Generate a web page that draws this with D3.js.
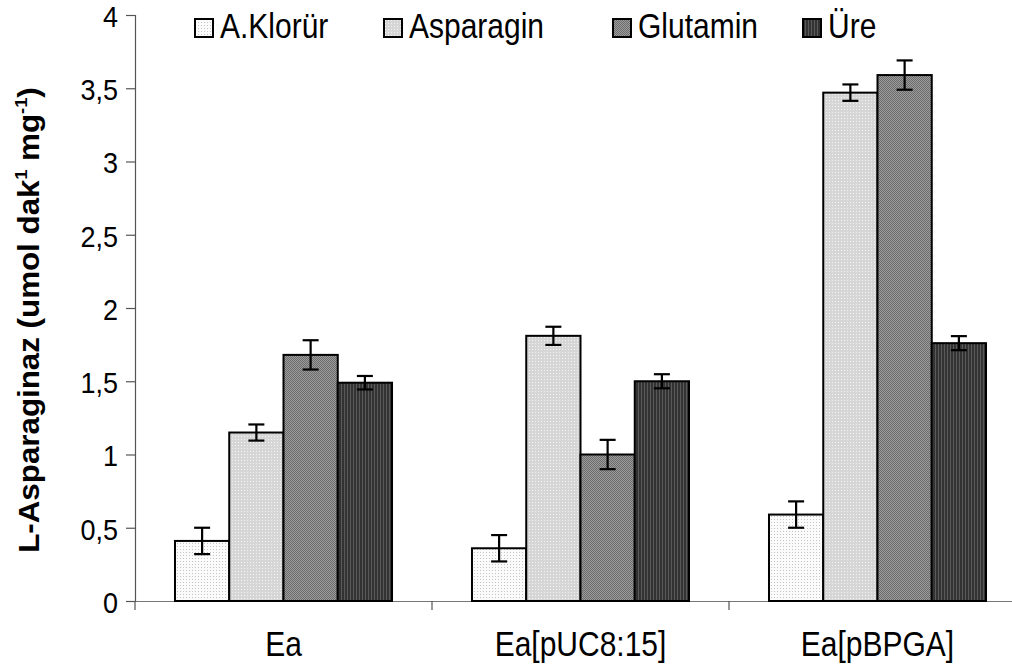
<!DOCTYPE html>
<html>
<head>
<meta charset="utf-8">
<script src="https://cdn.jsdelivr.net/npm/d3@7"></script>
<style>
  html, body { margin: 0; padding: 0; background: #fff; }
  svg text { font-family: "Liberation Sans", Arial, sans-serif; fill: #000; }
</style>
</head>
<body>
<svg id="chart" width="1012" height="668"></svg>
<script>
// Strains on the x axis and the four nitrogen sources
const groups = ["Ea", "Ea[pUC8:15]", "Ea[pBPGA]"];
const seriesNames = ["A.Klorür", "Asparagin", "Glutamin", "Üre"];

// L-asparaginase activity per strain, one array per source
const aKlorur   = [0.41, 0.36, 0.59];
const asparagin = [1.15, 1.81, 3.47];
const glutamin  = [1.68, 1.00, 3.59];
const ure       = [1.49, 1.50, 1.76];

// Standard error of each mean
const aKlorurErr   = [0.09, 0.09, 0.09];
const asparaginErr = [0.055, 0.062, 0.056];
const glutaminErr  = [0.10, 0.10, 0.10];
const ureErr       = [0.046, 0.048, 0.048];

const yTicks = [0, 0.5, 1, 1.5, 2, 2.5, 3, 3.5, 4];

const values = [aKlorur, asparagin, glutamin, ure];
const errors = [aKlorurErr, asparaginErr, glutaminErr, ureErr];

const rows = [];
groups.forEach((g, gi) => {
  seriesNames.forEach((s, si) => {
    rows.push({ group: g, series: s, value: values[si][gi], err: errors[si][gi] });
  });
});

const svg = d3.select("#chart");
const plotLeft = 135, plotRight = 1026, plotTop = 15, plotBottom = 601;
const tall = 1.18; // vertical stretch of the horizontal labels

const x0 = d3.scaleBand().domain(groups).range([plotLeft, plotRight]);
const x1 = d3.scaleBand().domain(seriesNames).range([0, x0.bandwidth()]).paddingOuter(0.737);
const y = d3.scaleLinear().domain([0, 4]).range([plotBottom, plotTop]);

const trFormat = d3.formatLocale({ decimal: ",", thousands: ".", grouping: [3], currency: ["", ""] }).format("~g");

// Fill patterns for the four sources
const defs = svg.append("defs");
const pA = defs.append("pattern").attr("id", "pat0").attr("patternUnits", "userSpaceOnUse").attr("width", 3).attr("height", 3);
pA.append("rect").attr("width", 3).attr("height", 3).attr("fill", "#fbfbfb");
pA.append("rect").attr("width", 1).attr("height", 1).attr("fill", "#c4c4c4");

const pB = defs.append("pattern").attr("id", "pat1").attr("patternUnits", "userSpaceOnUse").attr("width", 3).attr("height", 3);
pB.append("rect").attr("width", 3).attr("height", 3).attr("fill", "#d6d6d6");
pB.append("rect").attr("x", 1).attr("y", 1).attr("width", 1).attr("height", 1).attr("fill", "#f2f2f2");

const pC = defs.append("pattern").attr("id", "pat2").attr("patternUnits", "userSpaceOnUse").attr("width", 2).attr("height", 2);
pC.append("rect").attr("width", 2).attr("height", 2).attr("fill", "#9c9c9c");
pC.append("rect").attr("width", 1).attr("height", 1).attr("fill", "#6c6c6c");
pC.append("rect").attr("x", 1).attr("y", 1).attr("width", 1).attr("height", 1).attr("fill", "#6c6c6c");

const pD = defs.append("pattern").attr("id", "pat3").attr("patternUnits", "userSpaceOnUse").attr("width", 3).attr("height", 3);
pD.append("rect").attr("width", 3).attr("height", 3).attr("fill", "#333333");
pD.append("rect").attr("x", 2).attr("width", 1).attr("height", 3).attr("fill", "#5a5a5a");

const fillOf = s => `url(#pat${seriesNames.indexOf(s)})`;

// Axes
const yAxis = svg.append("g")
  .attr("transform", `translate(${plotLeft},0)`)
  .call(d3.axisLeft(y).tickValues(yTicks).tickFormat(trFormat).tickSize(9).tickPadding(8));
yAxis.select(".domain").attr("stroke", "#555").attr("stroke-width", 1.2);
yAxis.selectAll(".tick line").attr("stroke", "#555").attr("stroke-width", 1.2);
yAxis.selectAll(".tick text")
  .style("font-size", "27px")
  .attr("fill", "#000")
  .attr("dy", "0.38em")
  .attr("transform", "scale(1,1.1)");

const xAxis = svg.append("g")
  .attr("transform", `translate(0,${plotBottom})`)
  .call(d3.axisBottom(x0).tickSize(0).tickPadding(0).tickFormat(""));
xAxis.select(".domain").attr("stroke", "#777").attr("stroke-width", 1.2);
xAxis.selectAll(".tick").remove();
// Category separators below the baseline
const sepX = [plotLeft].concat(groups.map(g => x0(g) + x0.bandwidth()));
xAxis.selectAll("line.sep").data(sepX).join("line")
  .attr("class", "sep")
  .attr("x1", d => d).attr("x2", d => d)
  .attr("y1", 0).attr("y2", 9)
  .attr("stroke", "#555").attr("stroke-width", 1.2);
xAxis.selectAll("text.cat").data(groups).join("text")
  .attr("class", "cat")
  .attr("transform", d => `translate(${x0(d) + x0.bandwidth() / 2},55) scale(1,${tall})`)
  .attr("text-anchor", "middle")
  .style("font-size", "30px")
  .text(d => d);

// Bars
const barG = svg.append("g");
barG.selectAll("rect").data(rows).join("rect")
  .attr("x", d => x0(d.group) + x1(d.series))
  .attr("y", d => y(d.value))
  .attr("width", x1.bandwidth())
  .attr("height", d => y(0) - y(d.value))
  .attr("fill", d => fillOf(d.series))
  .attr("stroke", "#000")
  .attr("stroke-width", 2);

// Error bars
const errG = svg.append("g").attr("stroke", "#000").attr("stroke-width", 2.2);
const cx = d => x0(d.group) + x1(d.series) + x1.bandwidth() / 2;
const capHalf = 8;
errG.selectAll("line.v").data(rows).join("line").attr("class", "v")
  .attr("x1", cx).attr("x2", cx)
  .attr("y1", d => y(d.value + d.err)).attr("y2", d => y(d.value - d.err));
errG.selectAll("line.t").data(rows).join("line").attr("class", "t")
  .attr("x1", d => cx(d) - capHalf).attr("x2", d => cx(d) + capHalf)
  .attr("y1", d => y(d.value + d.err)).attr("y2", d => y(d.value + d.err));
errG.selectAll("line.b").data(rows).join("line").attr("class", "b")
  .attr("x1", d => cx(d) - capHalf).attr("x2", d => cx(d) + capHalf)
  .attr("y1", d => y(d.value - d.err)).attr("y2", d => y(d.value - d.err));

// Y axis title
const title = svg.append("text")
  .attr("transform", "translate(39,320) rotate(-90) scale(1.08,1)")
  .attr("text-anchor", "middle")
  .style("font-size", "29px")
  .style("font-weight", "bold");
title.append("tspan").text("L-Asparaginaz (umol dak");
title.append("tspan").attr("dx", -5).attr("dy", -12).style("font-size", "17px").text("-1");
title.append("tspan").attr("dy", 12).text(" mg");
title.append("tspan").attr("dy", -12).style("font-size", "17px").text("-1");
title.append("tspan").attr("dy", 12).text(")");

// Legend
const legendX = [195, 384, 613, 803];
const legend = svg.append("g");
const li = legend.selectAll("g").data(seriesNames).join("g")
  .attr("transform", (d, i) => `translate(${legendX[i]},19)`);
li.append("rect")
  .attr("width", 18).attr("height", 18)
  .attr("fill", d => fillOf(d))
  .attr("stroke", "#000").attr("stroke-width", 2);
li.append("text")
  .attr("transform", `translate(25,19) scale(1,${tall})`)
  .style("font-size", "30px")
  .text(d => d);
</script>
</body>
</html>
